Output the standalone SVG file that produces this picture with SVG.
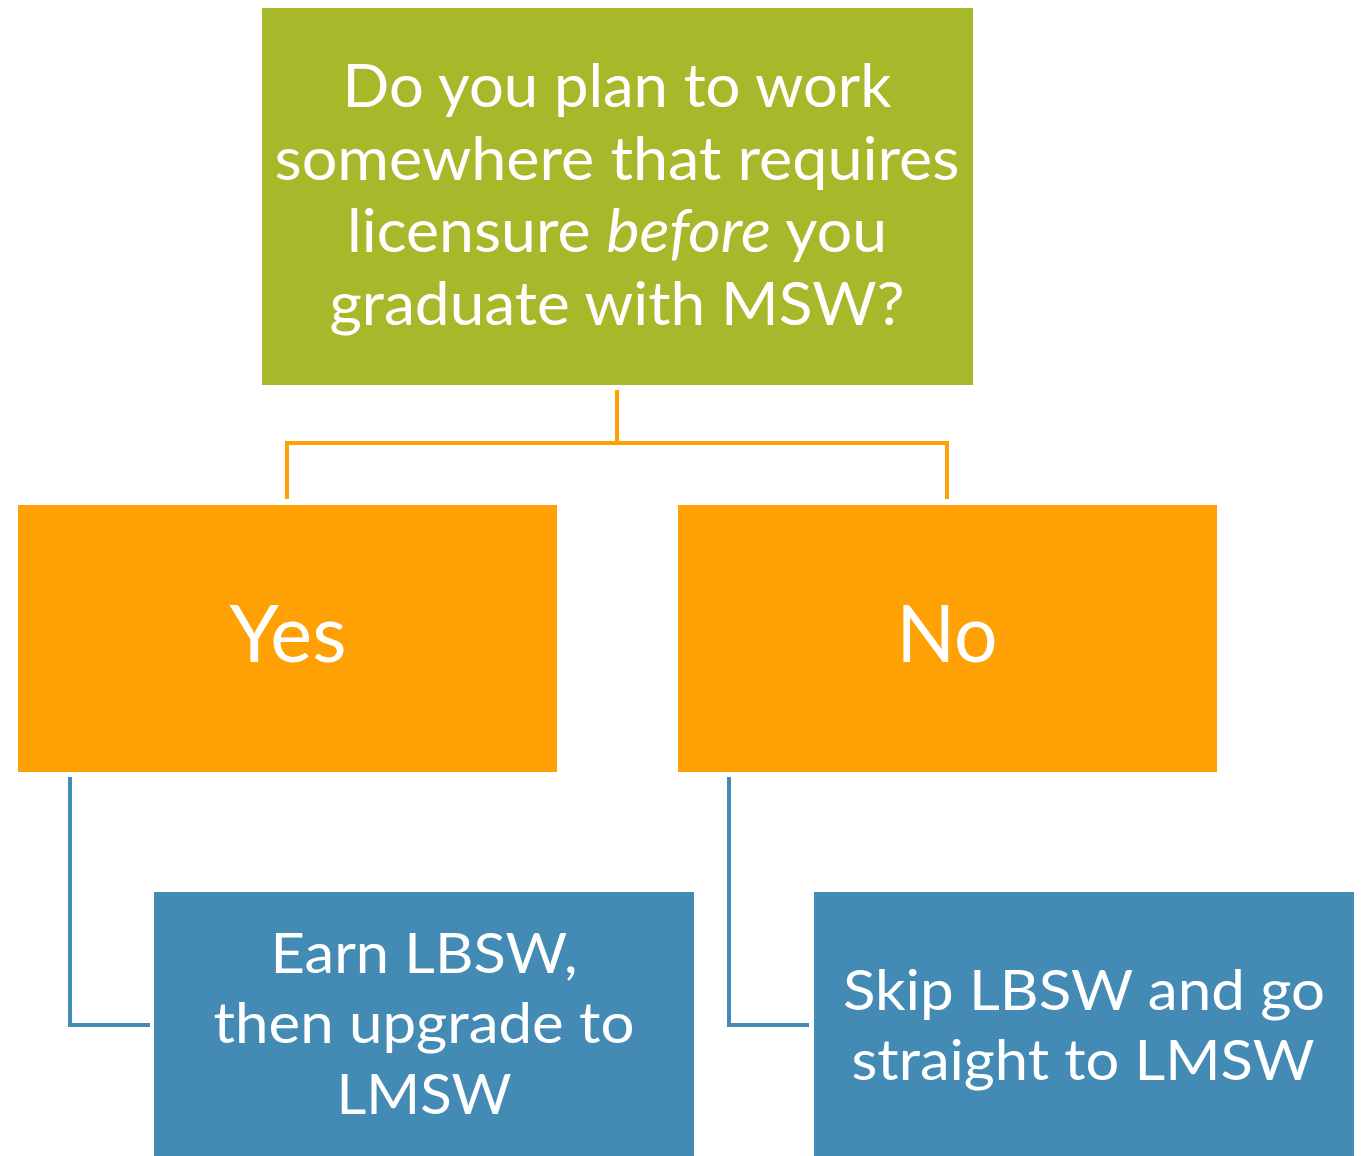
<svg xmlns="http://www.w3.org/2000/svg" width="1365" height="1156" viewBox="0 0 1365 1156">
<style>
.t{font-family:Lato,"Open Sans","Noto Sans",sans-serif;fill:#ffffff;text-anchor:middle}
.q{font-size:60px}
.a{font-size:80px}
.b{font-size:57px}
.oc{fill:none;stroke:#FFA005;stroke-width:4}
.bc{fill:none;stroke:#438AB5;stroke-width:4}
</style>
<rect width="1365" height="1156" fill="#ffffff"/>
<g id="connectors">
<path class="oc" d="M617 390 V443 M287 499 V443 H947 V499"/>
<path class="bc" d="M70 777 V1025 H150"/>
<path class="bc" d="M729 777 V1025 H809"/>
</g>
<g id="question">
<rect x="262" y="8" width="711" height="377" fill="#A7B82A"/>
<text class="t q" x="617" y="107" textLength="549" lengthAdjust="spacingAndGlyphs">Do you plan to work</text>
<text class="t q" x="617" y="180" textLength="685" lengthAdjust="spacingAndGlyphs">somewhere that requires</text>
<text class="t q" x="617" y="252" textLength="540" lengthAdjust="spacingAndGlyphs">licensure <tspan font-style="italic">before</tspan> you</text>
<text class="t q" x="617" y="325" textLength="575" lengthAdjust="spacingAndGlyphs">graduate with MSW?</text>
</g>
<g id="yes">
<rect x="18" y="505" width="539" height="267" fill="#FFA005"/>
<text class="t a" x="288" y="662" textLength="117" lengthAdjust="spacingAndGlyphs">Yes</text>
</g>
<g id="no">
<rect x="678" y="505" width="539" height="267" fill="#FFA005"/>
<text class="t a" x="947" y="662" textLength="101" lengthAdjust="spacingAndGlyphs">No</text>
</g>
<g id="earn">
<rect x="154" y="892" width="540" height="264" fill="#438AB5"/>
<text class="t b" x="424" y="973" textLength="307" lengthAdjust="spacingAndGlyphs">Earn LBSW,</text>
<text class="t b" x="424" y="1043" textLength="421" lengthAdjust="spacingAndGlyphs">then upgrade to</text>
<text class="t b" x="424" y="1114" textLength="175" lengthAdjust="spacingAndGlyphs">LMSW</text>
</g>
<g id="skip">
<rect x="814" y="892" width="540" height="264" fill="#438AB5"/>
<text class="t b" x="1084" y="1010" textLength="482" lengthAdjust="spacingAndGlyphs">Skip LBSW and go</text>
<text class="t b" x="1083" y="1080" textLength="463" lengthAdjust="spacingAndGlyphs">straight to LMSW</text>
</g>
</svg>
